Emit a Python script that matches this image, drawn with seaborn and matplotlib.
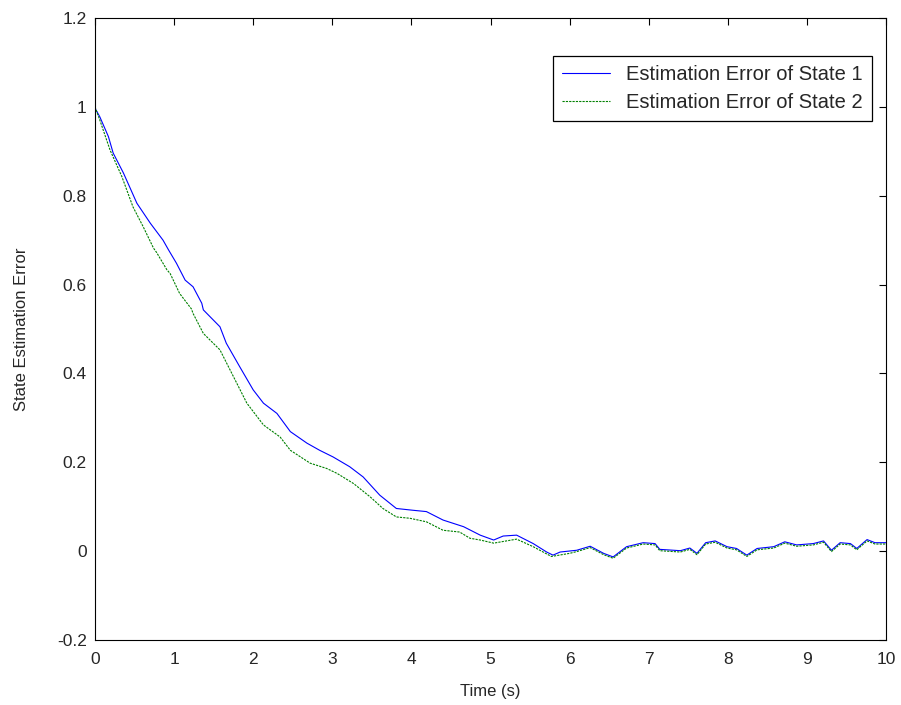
import numpy as np
import pandas as pd
import matplotlib
matplotlib.use("Agg")
import matplotlib.pyplot as plt
import seaborn as sns

# values
t_state1 = [0.0, 0.06, 0.17, 0.23, 0.36, 0.53, 0.70, 0.86, 0.93, 1.03, 1.14, 1.24, 1.35,
            1.37, 1.58, 1.66, 1.83, 2.0, 2.13, 2.30, 2.47, 2.68, 2.84, 3.01, 3.22, 3.39,
            3.60, 3.81, 4.02, 4.19, 4.40, 4.66, 4.87, 5.04, 5.16, 5.33, 5.54, 5.71, 5.79,
            5.88, 6.09, 6.26, 6.43, 6.55, 6.72, 6.93, 7.08, 7.14, 7.40, 7.52, 7.61, 7.72,
            7.84, 7.99, 8.11, 8.24, 8.37, 8.58, 8.72, 8.87, 9.08, 9.21, 9.31, 9.42, 9.55,
            9.63, 9.76, 9.86, 10.0]
err_state1 = [0.997, 0.978, 0.933, 0.896, 0.851, 0.783, 0.738, 0.700, 0.678, 0.648, 0.610,
              0.595, 0.558, 0.543, 0.505, 0.468, 0.415, 0.363, 0.333, 0.310, 0.269, 0.243,
              0.227, 0.212, 0.190, 0.167, 0.126, 0.096, 0.092, 0.089, 0.070, 0.055, 0.036,
              0.025, 0.034, 0.036, 0.017, -0.002, -0.009, -0.002, 0.002, 0.011, -0.005,
              -0.013, 0.010, 0.019, 0.017, 0.004, 0.001, 0.007, -0.005, 0.019, 0.023, 0.010,
              0.006, -0.009, 0.006, 0.010, 0.021, 0.014, 0.017, 0.023, 0.002, 0.019, 0.017,
              0.006, 0.026, 0.019, 0.019]

t_state2 = [0.0, 0.06, 0.19, 0.34, 0.48, 0.61, 0.74, 0.78, 0.91, 0.95, 1.07, 1.22, 1.24,
            1.37, 1.58, 1.75, 1.92, 2.13, 2.34, 2.47, 2.72, 2.93, 3.06, 3.27, 3.48, 3.64,
            3.81, 3.98, 4.19, 4.40, 4.61, 4.74, 4.87, 5.04, 5.33, 5.54, 5.77, 6.0, 6.09,
            6.26, 6.43, 6.55, 6.72, 6.93, 7.08, 7.14, 7.40, 7.52, 7.61, 7.72, 7.84, 7.99,
            8.11, 8.24, 8.37, 8.58, 8.72, 8.87, 9.08, 9.21, 9.31, 9.42, 9.55, 9.63, 9.76,
            9.86, 10.0]
err_state2 = [1.0, 0.971, 0.903, 0.843, 0.775, 0.730, 0.682, 0.672, 0.633, 0.625, 0.580,
              0.545, 0.535, 0.490, 0.453, 0.393, 0.333, 0.284, 0.257, 0.227, 0.198, 0.186,
              0.175, 0.152, 0.122, 0.096, 0.077, 0.074, 0.066, 0.047, 0.043, 0.029, 0.025,
              0.018, 0.027, 0.010, -0.012, -0.005, -0.001, 0.008, -0.008, -0.016, 0.007,
              0.016, 0.014, 0.001, -0.002, 0.004, -0.008, 0.016, 0.020, 0.007, 0.003,
              -0.012, 0.003, 0.007, 0.018, 0.011, 0.014, 0.020, -0.001, 0.016, 0.014, 0.003,
              0.023, 0.016, 0.016]

label1 = "Estimation Error of State 1"
label2 = "Estimation Error of State 2"

sns.set_style("white")
plt.rcParams['font.family'] = ['Liberation Sans', 'DejaVu Sans']

fig = plt.figure(figsize=(9.01, 7.05), dpi=100)
ax = fig.add_axes([0.1054, 0.0922, 0.878, 0.8823])

sns.lineplot(x=t_state1, y=err_state1, ax=ax, color='#0000ff', linewidth=0.8,
             label=label1, sort=False)
sns.lineplot(x=t_state2, y=err_state2, ax=ax, color='#008000', linewidth=0.8,
             linestyle=(0, (2, 1)), label=label2, sort=False)

ax.set_xlim(0, 10)
ax.set_ylim(-0.2, 1.2)
ax.set_xticks(range(0, 11))
ax.set_yticks(np.round(np.arange(-0.2, 1.21, 0.2), 1))
ax.set_yticklabels(['-0.2', '0', '0.2', '0.4', '0.6', '0.8', '1', '1.2'])
ax.set_xlabel("Time (s)", fontsize=12, labelpad=12)
ax.set_ylabel("State Estimation Error", fontsize=12, labelpad=20)
ax.tick_params(axis='both', direction='in', length=5, top=True, right=True,
               labelsize=12.5, color='black', width=0.8)
ax.tick_params(axis='x', pad=9)
ax.tick_params(axis='y', pad=6)
for s in ax.spines.values():
    s.set_color('black')
    s.set_linewidth(0.8)

leg = ax.legend(loc='upper right', bbox_to_anchor=(0.982, 0.939), borderaxespad=0,
                fancybox=False, edgecolor='black', framealpha=1, fontsize=14.5,
                handlelength=2.4, handletextpad=0.8, borderpad=0.45,
                labelspacing=0.45)
leg.get_frame().set_linewidth(0.9)

fig.savefig("out.png", dpi=100)
